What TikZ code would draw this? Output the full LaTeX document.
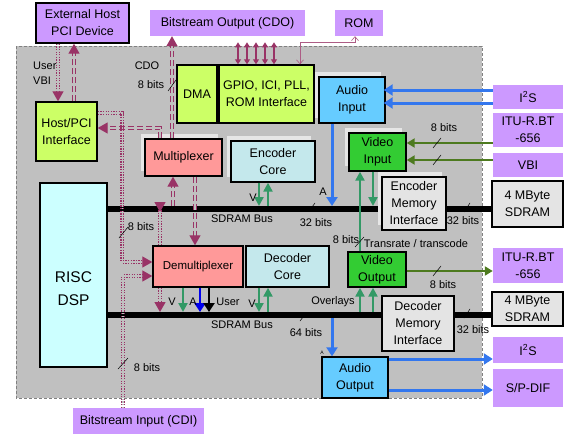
\documentclass[tikz,border=0pt]{standalone}
\usepackage{fontspec}
\setmainfont{Liberation Sans}
\usetikzlibrary{arrows.meta,shadows,positioning}

\definecolor{bgray}{HTML}{C0C0C0}
\definecolor{pviolet}{HTML}{CC99FF}
\definecolor{lgreen}{HTML}{CCFF66}
\definecolor{ablue}{HTML}{66CCFF}
\definecolor{ccyan}{HTML}{C4E8EC}
\definecolor{rcyan}{HTML}{CCFFFF}
\definecolor{salmon}{HTML}{FF9999}
\definecolor{vgreen}{HTML}{33CC33}
\definecolor{mgray}{HTML}{E4E4E4}
\definecolor{shadc}{HTML}{E6E6E6}
\definecolor{pmag}{HTML}{993366}
\definecolor{lblue}{HTML}{3377EE}
\definecolor{dblue}{HTML}{0000EE}
\definecolor{sgreen}{HTML}{339966}
\definecolor{ogreen}{HTML}{4D7A1F}

\newcommand{\boxfnt}{\fontsize{12.5}{17}\selectfont}
\newcommand{\lblfnt}{\fontsize{11}{12}\selectfont}

\pgfdeclarelayer{back}
\pgfdeclarelayer{mid}
\pgfsetlayers{back,mid,main}

\begin{document}
\begin{tikzpicture}[x=1pt,y=-1pt]
  \tikzstyle{blk}=[draw=black,line width=1.4pt,align=center,inner sep=1pt,font=\boxfnt]
  \tikzstyle{io}=[fill=pviolet,align=center,inner sep=1pt,font=\boxfnt]
  \tikzstyle{shad}=[general shadow={fill=shadc,shadow xshift=-4pt,shadow yshift=5pt}]
  \tikzstyle{lbl}=[font=\lblfnt,inner sep=0pt]
  \tikzstyle{tick}=[draw=black,line width=0.5pt]
  \tikzstyle{bus}=[draw=black,line width=6pt]
  \tikzstyle{pdash}=[draw=pmag,line width=1.3pt,double=bgray,double distance=1.5pt,dash pattern=on 6pt off 3pt,-{Triangle[width=11pt,length=10pt]}]
  \tikzstyle{pdot}=[pdash,dash pattern=on 1.3pt off 1.3pt]
  \tikzstyle{pbi}=[draw=pmag,line width=1.2pt,{Triangle[width=6pt,length=5pt]}-{Triangle[width=6pt,length=5pt]}]
  \tikzstyle{romln}=[draw=pmag!80,line width=0.6pt,{Straight Barb[width=7pt,length=4pt]}-{Straight Barb[width=7pt,length=4pt]}]
  \tikzstyle{bluearr}=[draw=lblue,line width=3pt,-{Triangle[width=11pt,length=9pt]}]
  \tikzstyle{garr}=[draw=sgreen,line width=2.5pt,-{Triangle[width=9pt,length=9pt]}]
  \tikzstyle{oarr}=[draw=ogreen,line width=2pt,-{Triangle[width=9pt,length=8pt]}]

  \useasboundingbox (0,0) rectangle (571,439);

  % chip area
  \begin{pgfonlayer}{back}
    \draw[fill=bgray,draw=gray,densely dashed,line width=0.4pt] (16,46) rectangle (482,398);
  \end{pgfonlayer}

  % external blocks
  \node[blk,io,minimum width=93pt,minimum height=40pt] (ext) at (82.5,23) {External Host\\PCI Device};
  \node[io,minimum width=155pt,minimum height=26pt] (cdo) at (227.5,23) {Bitstream Output (CDO)};
  \node[io,minimum width=48pt,minimum height=26pt] (rom) at (359,23) {ROM};
  \node[io,minimum width=131pt,minimum height=26pt] (cdi) at (138.5,421) {Bitstream Input (CDI)};
  \node[io,minimum width=70pt,minimum height=24pt] (i2sa) at (528,97) {I\textsuperscript{2}S};
  \node[io,minimum width=70pt,minimum height=34pt] (itua) at (528,130) {ITU-R.BT\\-656};
  \node[io,minimum width=70pt,minimum height=24pt] (vbi) at (528,165) {VBI};
  \node[io,minimum width=70pt,minimum height=35pt] (itub) at (528,265.5) {ITU-R.BT\\-656};
  \node[io,minimum width=70pt,minimum height=26pt] (i2sb) at (528,350) {I\textsuperscript{2}S};
  \node[io,minimum width=70pt,minimum height=38pt] (spdif) at (528,388) {S/P-DIF};
  \node[blk,fill=mgray,minimum width=71pt,minimum height=46pt] (sd1) at (527.5,204) {4 MByte\\SDRAM};
  \node[blk,fill=mgray,minimum width=71pt,minimum height=34pt] (sd2) at (527.5,309) {4 MByte\\SDRAM};

  % on-chip blocks
  \node[blk,fill=lgreen,minimum width=61pt,minimum height=59pt] (host) at (66.5,131.5) {Host/PCI\\Interface};
  \node[blk,fill=lgreen,minimum width=40pt,minimum height=58pt] (dma) at (197,94) {DMA};
  \node[blk,fill=lgreen,minimum width=95pt,minimum height=58pt] (gpio) at (266.5,94) {GPIO, ICI, PLL,\\ROM Interface};
  \node[blk,shad,fill=ablue,minimum width=66pt,minimum height=46pt] (ain) at (352,100) {Audio\\Input};
  \node[blk,shad,fill=salmon,minimum width=77pt,minimum height=37pt] (mux) at (183.5,157.5) {Multiplexer};
  \node[blk,shad,fill=ccyan,minimum width=84pt,minimum height=41pt] (enc) at (273,161.5) {Encoder\\Core};
  \node[blk,shad,fill=vgreen,minimum width=57pt,minimum height=38pt] (vin) at (377.5,152) {Video\\Input};
  \node[blk,shad,fill=mgray,minimum width=64pt,minimum height=53pt] (emem) at (414,203.5) {Encoder\\Memory\\Interface};
  \node[blk,fill=rcyan,minimum width=67pt,minimum height=184pt] (risc) at (73.5,275) {};
  \node[align=center,font=\fontsize{15.5}{23}\selectfont] (risct) at (73.5,289) {RISC\\DSP};
  \node[blk,fill=salmon,minimum width=90pt,minimum height=41pt,font=\fontsize{11.5}{17}\selectfont] (demux) at (198,266.5) {Demultiplexer};
  \node[blk,fill=ccyan,minimum width=83pt,minimum height=41pt] (dec) at (287.5,266.5) {Decoder\\Core};
  \node[blk,fill=vgreen,minimum width=58pt,minimum height=35pt] (vout) at (377,269.5) {Video\\Output};
  \node[blk,fill=mgray,minimum width=72pt,minimum height=55pt] (dmem) at (418,323.5) {Decoder\\Memory\\Interface};
  \node[blk,fill=ablue,minimum width=66pt,minimum height=41pt] (aout) at (355,377.5) {Audio\\Output};

  % SDRAM buses
  \coordinate (b1n) at (107,206);
  \coordinate (b2n) at (107,312);
  \coordinate (b2s) at (107,318);
  \begin{pgfonlayer}{mid}
    \draw[bus] ([yshift=66pt]risc.east) -- ([yshift=66pt]risc.east -| sd1.west);
    \draw[bus] ([yshift=-40pt]risc.east) -- ([yshift=-40pt]risc.east -| sd2.west);
  \end{pgfonlayer}

  % bitstream and host paths
  \draw[pdot] ([xshift=-24.5pt]ext.south) -- ([xshift=-24.5pt]ext.south |- host.north);
  \draw[pdash] ([xshift=7.5pt]host.north) -- ([xshift=7.5pt]host.north |- ext.south);
  \draw[pdash] ([xshift=-11.5pt]mux.north) -- ([xshift=-11.5pt]mux.north |- cdo.south);
  \draw[pdash] ([xshift=-23.5pt]mux.north) |- ([yshift=3.5pt]host.east);
  \draw[pdot] ([yshift=18.5pt]host.east) -| ([xshift=-30pt,yshift=4.5pt]demux.west) -- ([yshift=4.5pt]demux.west);
  \draw[pdot] ([xshift=-15.5pt]cdi.north) |- ([yshift=-9.5pt]demux.west);
  \draw[pdot] ([xshift=-38pt]demux.north) -- ([xshift=-38pt]demux.north |- b1n) -- ++(0,6);
  \draw[pdot] ([xshift=-38pt]demux.south) -- ([xshift=-38pt]demux.south |- b2n);
  \draw[pdash] ([xshift=-10.5pt]mux.south |- b1n) -- ([xshift=-10.5pt]mux.south);
  \draw[pdash] ([xshift=11.5pt]mux.south) -- ([xshift=11.5pt]mux.south |- demux.north);
  \foreach \dx in {-28.5,-19.5,-10.5,-1.5,7.5}
    \draw[pbi] ([xshift=\dx pt]gpio.north) -- ++(0,-22);
  \draw[romln] ([xshift=33.5pt]gpio.north) |- ([xshift=-4pt,yshift=-6pt]rom.south) -- ([xshift=-4pt]rom.south);

  % audio paths
  \draw[bluearr,shorten >=-2pt] ([yshift=7pt]i2sa.west) -- ([yshift=7pt]i2sa.west -| ain.east);
  \draw[bluearr,shorten >=-2pt] ([yshift=-6pt]i2sa.west) -- ([yshift=-6pt]i2sa.west -| ain.east);
  \draw[bluearr] ([xshift=-20pt]ain.south) -- ([xshift=-20pt]ain.south |- b1n);
  \draw[bluearr] ([xshift=-23pt]aout.north |- b2s) -- ([xshift=-23pt]aout.north);
  \draw[bluearr] ([yshift=18.5pt]aout.east) -- ([yshift=18.5pt]aout.east -| i2sb.west);
  \draw[bluearr] ([yshift=-12.5pt]aout.east) -- ([yshift=-12.5pt]aout.east -| spdif.west);
  \draw[bluearr,draw=dblue,line width=2.5pt] ([xshift=2pt]demux.south) -- ([xshift=2pt]demux.south |- b2n);
  \draw[bluearr,draw=black,line width=2.5pt] ([xshift=11pt]demux.south) -- ([xshift=11pt]demux.south |- b2n);

  % video paths
  \draw[garr] ([xshift=-15pt]demux.south) -- ([xshift=-15pt]demux.south |- b2n);
  \draw[garr] ([xshift=-14pt]enc.south) -- ([xshift=-14pt]enc.south |- b1n);
  \draw[garr] ([xshift=-5pt]enc.south |- b1n) -- ([xshift=-5pt]enc.south);
  \draw[garr] ([xshift=-28.5pt]dec.south) -- ([xshift=-28.5pt]dec.south |- b2n);
  \draw[garr] ([xshift=-19.5pt]dec.south |- b2n) -- ([xshift=-19.5pt]dec.south);
  \draw[garr] ([xshift=-4.5pt]vin.south) -- ([xshift=-4.5pt]vin.south |- b1n);
  \draw[garr] ([xshift=-17pt]vout.north) -- ([xshift=-17pt]vout.north |- vin.south);
  \draw[garr] ([xshift=-17pt]vout.south |- b2n) -- ([xshift=-17pt]vout.south);
  \draw[garr] ([xshift=-4pt]vout.south |- b2n) -- ([xshift=-4pt]vout.south);
  \draw[oarr] ([yshift=-13pt]itua.west) -- ([yshift=-13pt]itua.west -| vin.east);
  \draw[oarr] ([yshift=5pt]vbi.west) -- ([yshift=5pt]vbi.west -| vin.east);
  \draw[oarr] ([yshift=-1.5pt]vout.east) -- ([yshift=-1.5pt]vout.east -| itub.west);

  % width ticks
  \draw[tick] (168,91) -- (176,80);
  \draw[tick] (119,238) -- (128,227);
  \draw[tick] (118,369) -- (128,358);
  \draw[tick] (309,211) -- (315,203);
  \draw[tick] (464,212) -- (470,203);
  \draw[tick] (300,321) -- (306,313);
  \draw[tick] (464,318) -- (470,309);
  \draw[tick] (355,247) -- (364,237);
  \draw[tick] (433,148) -- (441,138);
  \draw[tick] (433,165) -- (441,155);
  \draw[tick] (433,276) -- (441,266);

  % labels
  \node[lbl,anchor=west] (luser) at (33,66) {User};
  \node[lbl,anchor=west] (lvbi) at (33,81) {VBI};
  \node[lbl] (lcdo) at (147,66) {CDO};
  \node[lbl] (lcdob) at (151,85) {8 bits};
  \node[lbl] (lhostb) at (141,227) {8 bits};
  \node[lbl] (lcdib) at (147,368) {8 bits};
  \node[lbl] (lbus1) at (242,219) {SDRAM Bus};
  \node[lbl] (lbus2) at (242,325) {SDRAM Bus};
  \node[lbl] (lv1) at (253,198) {V};
  \node[lbl] (la1) at (323,192) {A};
  \node[lbl] (l32a) at (316,223) {32 bits};
  \node[lbl] (l32b) at (463,221) {32 bits};
  \node[lbl] (l8v) at (346,240) {8 bits};
  \node[lbl] (ltrans) at (416,244) {Transrate / transcode};
  \node[lbl] (l8in) at (444,128) {8 bits};
  \node[lbl] (l8out) at (443,285) {8 bits};
  \node[lbl] (lv2) at (172,302) {V};
  \node[lbl] (la2) at (193,302) {A};
  \node[lbl] (luser2) at (228,302) {User};
  \node[lbl] (lv3) at (252,304) {V};
  \node[lbl] (lovl) at (333,302) {Overlays};
  \node[lbl] (l64) at (306,333) {64 bits};
  \node[lbl] (l32c) at (473,330) {32 bits};
  \node[font=\fontsize{5}{6}\selectfont,inner sep=0pt] (la3) at (322,353) {A};
\end{tikzpicture}
\end{document}
